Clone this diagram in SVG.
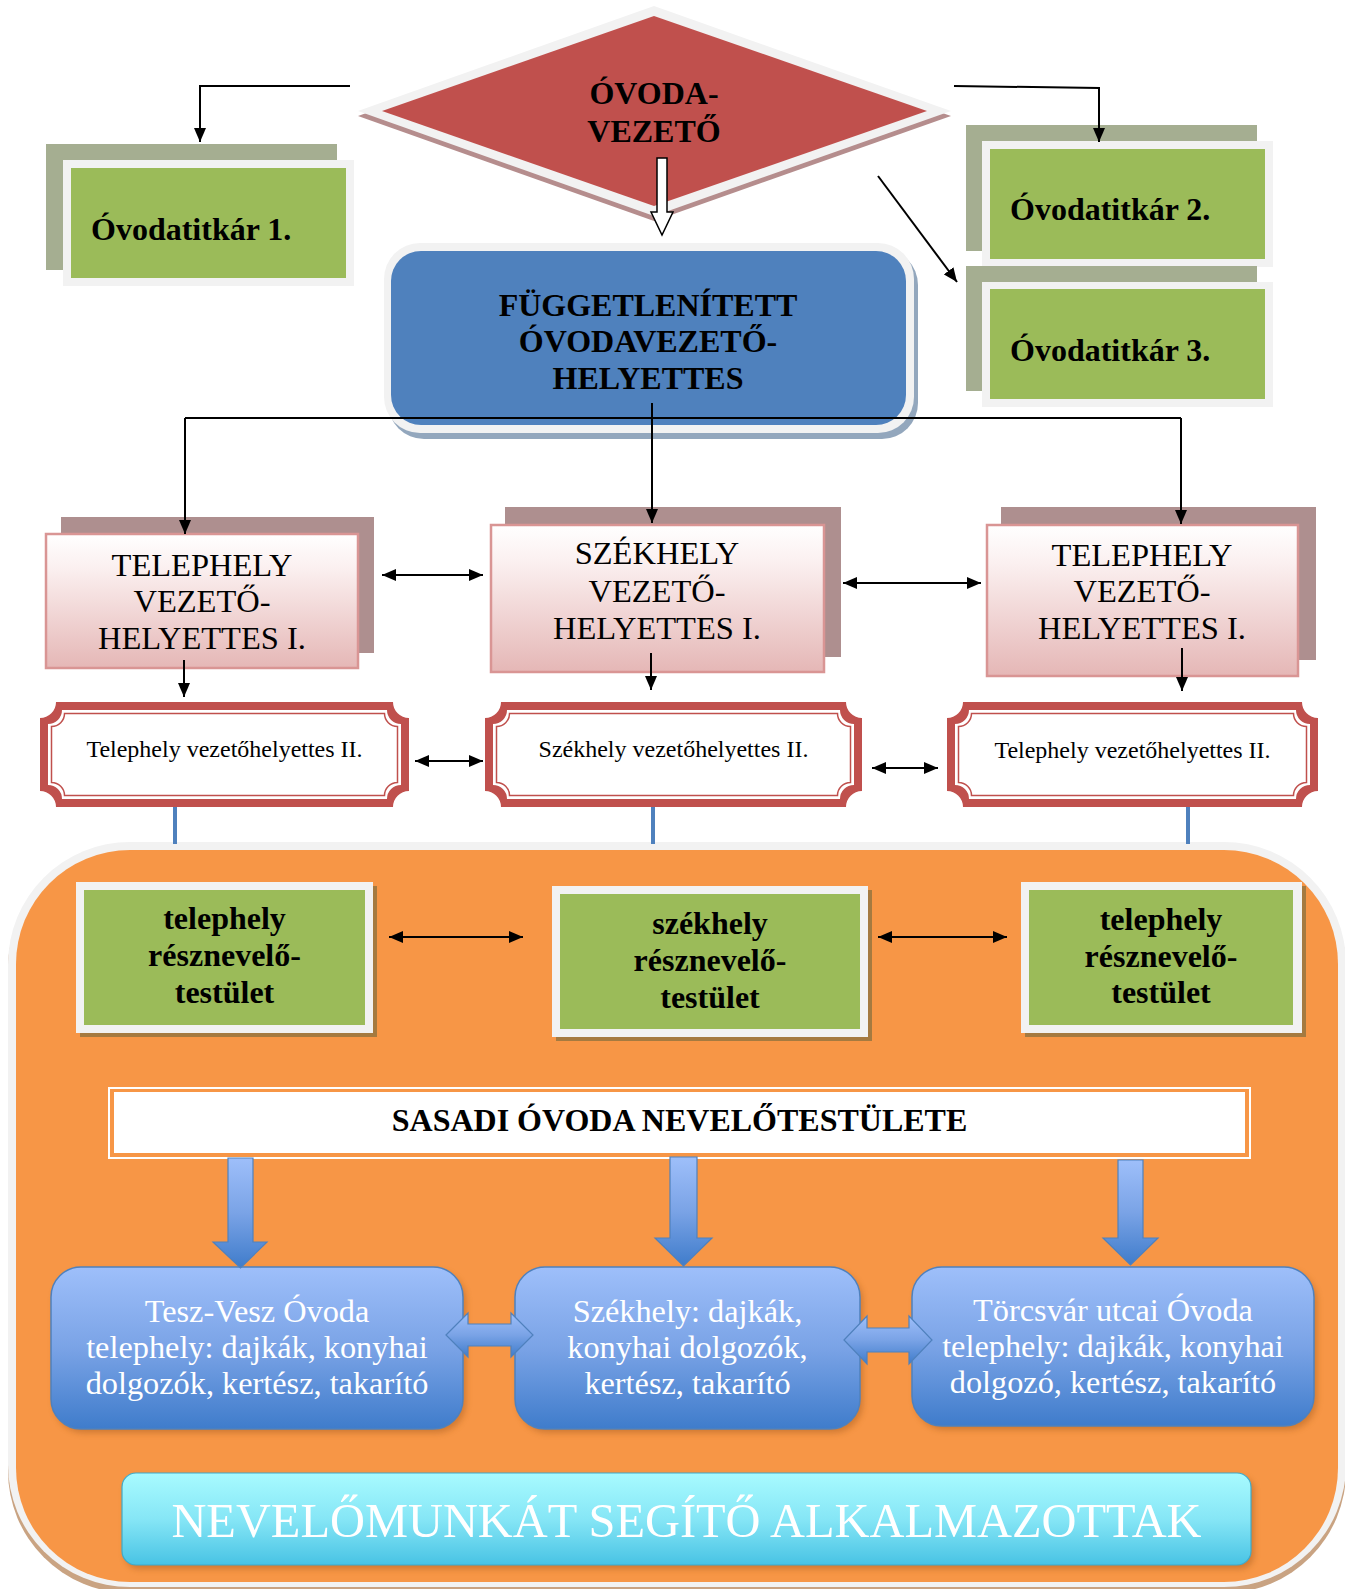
<svg xmlns="http://www.w3.org/2000/svg" width="1345" height="1589" viewBox="0 0 1345 1589">
<style>
.t{font-family:"Liberation Serif","Times New Roman",serif;}
.b{font-weight:bold;}
.c{text-anchor:middle;}
.tp{font-size:32.5px;}
.gt{font-size:32px;}
.bt{font-size:32.3px;fill:#fff;}
.conn{fill:none;stroke:#000;stroke-width:2;}
.back-g{fill:#A5AE91;}
.frame{fill:#F2F2F2;}
.green{fill:#9BBB59;}
.back-p{fill:#AE8F8F;}
.pink{fill:url(#gPink);stroke:#D99594;stroke-width:2.5;}
.red{fill:#C0504D;}
.pw{fill:#fff;}
.pl{fill:#fff;stroke:#C0504D;stroke-width:1.5;}
.bluebox{fill:url(#gBlue);stroke:#4F81BD;stroke-width:1.5;}
.blk{fill:url(#gBlue);stroke:#4F81BD;stroke-width:1.2;}
.vline{stroke:#4F81BD;stroke-width:4;}
</style>
<defs>
<marker id="ah" viewBox="0 0 14 12" refX="14" refY="6" markerWidth="14" markerHeight="12" markerUnits="userSpaceOnUse" orient="auto-start-reverse">
<path d="M0,0 L14,6 L0,12 z" fill="#000"/>
</marker>
<linearGradient id="gPink" x1="0" y1="0" x2="0" y2="1">
<stop offset="0" stop-color="#FFFFFF"/><stop offset="0.25" stop-color="#FBF0F0"/><stop offset="1" stop-color="#E5B7B6"/>
</linearGradient>
<linearGradient id="gBlue" x1="0" y1="0" x2="0" y2="1">
<stop offset="0" stop-color="#9EBFFA"/><stop offset="0.5" stop-color="#7AA3E6"/><stop offset="1" stop-color="#3F7CCB"/>
</linearGradient>
<linearGradient id="gCyan" x1="0" y1="0" x2="0" y2="1">
<stop offset="0" stop-color="#A8FBFF"/><stop offset="0.5" stop-color="#86E6F6"/><stop offset="1" stop-color="#48C3E4"/>
</linearGradient>
<filter id="blur" x="-10%" y="-20%" width="120%" height="150%"><feGaussianBlur stdDeviation="3"/></filter>
</defs>

<g id="orange-region">
<rect x="8" y="846" width="1338" height="747" rx="122" fill="#C9A382"/>
<rect x="8" y="842" width="1338" height="745" rx="122" fill="#F2F2F2"/>
<rect x="16" y="850" width="1322" height="732" rx="114" fill="#F79646"/>
</g>

<g id="ovodavezeto">
<polygon points="358,116 654,11 951,116 654,221" fill="#B58D8D"/>
<polygon points="358,111 654,6 951,111 654,216" fill="#F2F2F2"/>
<polygon points="382,111 654,16 927,111 654,206" fill="#C0504D"/>
<text class="t b c" x="654" y="104" font-size="32">ÓVODA-</text>
<text class="t b c" x="654" y="142" font-size="32">VEZETŐ</text>
</g>

<g id="titkar1">
<rect class="back-g" x="46" y="144" width="291" height="126"/>
<rect class="frame" x="63" y="160" width="291" height="126"/>
<rect class="green" x="71" y="168" width="275" height="110"/>
<text class="t b" x="91" y="240" font-size="32">Óvodatitkár 1.</text>
</g>
<g id="titkar2">
<rect class="back-g" x="966" y="125" width="291" height="126"/>
<rect class="frame" x="982" y="141" width="291" height="126"/>
<rect class="green" x="990" y="149" width="275" height="110"/>
<text class="t b" x="1010" y="220" font-size="32">Óvodatitkár 2.</text>
</g>
<g id="titkar3">
<rect class="back-g" x="966" y="266" width="291" height="125"/>
<rect class="frame" x="982" y="282" width="291" height="125"/>
<rect class="green" x="990" y="289" width="275" height="110"/>
<text class="t b" x="1010" y="361" font-size="32">Óvodatitkár 3.</text>
</g>

<g id="helyettes">
<rect x="388" y="249" width="530" height="190" rx="36" fill="#93A7BD"/>
<rect x="384" y="243" width="530" height="190" rx="36" fill="#F2F2F2"/>
<rect x="391" y="251" width="515" height="174" rx="30" fill="#4F81BD"/>
<text class="t b c" x="648" y="316" font-size="32">FÜGGETLENÍTETT</text>
<text class="t b c" x="648" y="352" font-size="32">ÓVODAVEZETŐ-</text>
<text class="t b c" x="648" y="389" font-size="32">HELYETTES</text>
</g>

<g id="telephely1">
<rect class="back-p" x="61" y="517" width="313" height="136"/>
<rect class="pink" x="46" y="534" width="312" height="134"/>
<text class="t c tp" x="202" y="576">TELEPHELY</text>
<text class="t c tp" x="202" y="612">VEZETŐ-</text>
<text class="t c tp" x="202" y="649">HELYETTES I.</text>
</g>
<g id="szekhely1">
<rect class="back-p" x="505" y="507" width="336" height="150"/>
<rect class="pink" x="491" y="525" width="333" height="147"/>
<text class="t c tp" x="657" y="564">SZÉKHELY</text>
<text class="t c tp" x="657" y="602">VEZETŐ-</text>
<text class="t c tp" x="657" y="639">HELYETTES I.</text>
</g>
<g id="telephely1b">
<rect class="back-p" x="1001" y="507" width="315" height="153"/>
<rect class="pink" x="987" y="525" width="311" height="151"/>
<text class="t c tp" x="1142" y="566">TELEPHELY</text>
<text class="t c tp" x="1142" y="602">VEZETŐ-</text>
<text class="t c tp" x="1142" y="639">HELYETTES I.</text>
</g>

<g id="telephely2">
<path class="red" d="M56,702 H393 A16,16 0 0 0 409,718 V791 A16,16 0 0 0 393,807 H56 A16,16 0 0 0 40,791 V718 A16,16 0 0 0 56,702 Z"/>
<path class="pw" d="M62,710 H387 A14,14 0 0 0 401,724 V785 A14,14 0 0 0 387,799 H62 A14,14 0 0 0 48,785 V724 A14,14 0 0 0 62,710 Z"/>
<path class="pl" d="M64.5,713.5 H384.5 A13,13 0 0 0 397.5,726.5 V782.5 A13,13 0 0 0 384.5,795.5 H64.5 A13,13 0 0 0 51.5,782.5 V726.5 A13,13 0 0 0 64.5,713.5 Z"/>
<text class="t c" x="224.5" y="757" font-size="24">Telephely vezetőhelyettes II.</text>
</g>
<g id="szekhely2">
<path class="red" d="M501,702 H846 A16,16 0 0 0 862,718 V791 A16,16 0 0 0 846,807 H501 A16,16 0 0 0 485,791 V718 A16,16 0 0 0 501,702 Z"/>
<path class="pw" d="M507,710 H840 A14,14 0 0 0 854,724 V785 A14,14 0 0 0 840,799 H507 A14,14 0 0 0 493,785 V724 A14,14 0 0 0 507,710 Z"/>
<path class="pl" d="M509.5,713.5 H837.5 A13,13 0 0 0 850.5,726.5 V782.5 A13,13 0 0 0 837.5,795.5 H509.5 A13,13 0 0 0 496.5,782.5 V726.5 A13,13 0 0 0 509.5,713.5 Z"/>
<text class="t c" x="673.5" y="757" font-size="24">Székhely vezetőhelyettes II.</text>
</g>
<g id="telephely2b">
<path class="red" d="M963,702 H1302 A16,16 0 0 0 1318,718 V791 A16,16 0 0 0 1302,807 H963 A16,16 0 0 0 947,791 V718 A16,16 0 0 0 963,702 Z"/>
<path class="pw" d="M969,710 H1296 A14,14 0 0 0 1310,724 V785 A14,14 0 0 0 1296,799 H969 A14,14 0 0 0 955,785 V724 A14,14 0 0 0 969,710 Z"/>
<path class="pl" d="M971.5,713.5 H1293.5 A13,13 0 0 0 1306.5,726.5 V782.5 A13,13 0 0 0 1293.5,795.5 H971.5 A13,13 0 0 0 958.5,782.5 V726.5 A13,13 0 0 0 971.5,713.5 Z"/>
<text class="t c" x="1132.5" y="758" font-size="24">Telephely vezetőhelyettes II.</text>
</g>

<g id="resz1">
<rect x="80" y="886" width="297" height="151" fill="#A57A40"/>
<rect class="frame" x="76" y="882" width="297" height="151"/>
<rect class="green" x="84" y="890" width="281" height="135"/>
<text class="t b c gt" x="224.5" y="929">telephely</text>
<text class="t b c gt" x="224.5" y="966">résznevelő-</text>
<text class="t b c gt" x="224.5" y="1003">testület</text>
</g>
<g id="resz2">
<rect x="556" y="890" width="316" height="151" fill="#A57A40"/>
<rect class="frame" x="552" y="886" width="316" height="151"/>
<rect class="green" x="560" y="894" width="300" height="135"/>
<text class="t b c gt" x="710" y="934">székhely</text>
<text class="t b c gt" x="710" y="971">résznevelő-</text>
<text class="t b c gt" x="710" y="1008">testület</text>
</g>
<g id="resz3">
<rect x="1025" y="886" width="281" height="151" fill="#A57A40"/>
<rect class="frame" x="1021" y="882" width="281" height="151"/>
<rect class="green" x="1029" y="890" width="264" height="135"/>
<text class="t b c gt" x="1161" y="930">telephely</text>
<text class="t b c gt" x="1161" y="967">résznevelő-</text>
<text class="t b c gt" x="1161" y="1003">testület</text>
</g>

<g id="sasadi">
<rect x="109" y="1088" width="1141" height="70" fill="none" stroke="#fff" stroke-width="2"/>
<rect x="114" y="1092" width="1131" height="61" fill="#fff"/>
<text class="t b c" x="679.5" y="1131" font-size="32">SASADI ÓVODA NEVELŐTESTÜLETE</text>
</g>

<g id="teszvesz">
<rect x="54" y="1271" width="412" height="162" rx="30" fill="#A0591C" opacity="0.45" filter="url(#blur)"/>
<rect class="bluebox" x="51" y="1267" width="412" height="162" rx="30"/>
<text class="t c bt" x="257" y="1322">Tesz-Vesz Óvoda</text>
<text class="t c bt" x="257" y="1358">telephely: dajkák, konyhai</text>
<text class="t c bt" x="257" y="1394">dolgozók, kertész, takarító</text>
</g>
<g id="szekhely-dolg">
<rect x="518" y="1271" width="345" height="162" rx="30" fill="#A0591C" opacity="0.45" filter="url(#blur)"/>
<rect class="bluebox" x="515" y="1267" width="345" height="162" rx="30"/>
<text class="t c bt" x="687.5" y="1322">Székhely: dajkák,</text>
<text class="t c bt" x="687.5" y="1358">konyhai dolgozók,</text>
<text class="t c bt" x="687.5" y="1394">kertész, takarító</text>
</g>
<g id="torcsvar">
<rect x="915" y="1271" width="402" height="159" rx="30" fill="#A0591C" opacity="0.45" filter="url(#blur)"/>
<rect class="bluebox" x="912" y="1267" width="402" height="159" rx="30"/>
<text class="t c bt" x="1113" y="1321">Törcsvár utcai Óvoda</text>
<text class="t c bt" x="1113" y="1357">telephely: dajkák, konyhai</text>
<text class="t c bt" x="1113" y="1393">dolgozó, kertész, takarító</text>
</g>

<g id="alkalmazottak">
<rect x="125" y="1477" width="1129" height="92" rx="14" fill="#A0591C" opacity="0.45" filter="url(#blur)"/>
<rect x="122" y="1473" width="1129" height="92" rx="14" fill="url(#gCyan)" stroke="#3FA9C9" stroke-width="1.2"/>
<text class="t c" x="686.5" y="1537" font-size="48.4" fill="#fff">NEVELŐMUNKÁT SEGÍTŐ ALKALMAZOTTAK</text>
</g>

<g id="connectors">
<path class="conn" d="M350,86 H200 V142" marker-end="url(#ah)"/>
<path class="conn" d="M954,86 L1099,88 V142" marker-end="url(#ah)"/>
<path class="conn" d="M878,176 L957,282" marker-end="url(#ah)"/>
<path d="M657,158 H667 V212 H673 L662,235 L651,212 H657 Z" fill="#fff" stroke="#000" stroke-width="1.5"/>
<path class="conn" d="M652,403 V523" marker-end="url(#ah)"/>
<path class="conn" d="M185,418 H1181"/>
<path class="conn" d="M185,418 V534" marker-end="url(#ah)"/>
<path class="conn" d="M1181,418 V524" marker-end="url(#ah)"/>
<path class="conn" d="M184,660 V697" marker-end="url(#ah)"/>
<path class="conn" d="M651,653 V690" marker-end="url(#ah)"/>
<path class="conn" d="M1182,648 V691" marker-end="url(#ah)"/>
<path class="conn" d="M382,575 H483" marker-start="url(#ah)" marker-end="url(#ah)"/>
<path class="conn" d="M843,583 H981" marker-start="url(#ah)" marker-end="url(#ah)"/>
<path class="conn" d="M415,761 H483" marker-start="url(#ah)" marker-end="url(#ah)"/>
<path class="conn" d="M872,768 H938" marker-start="url(#ah)" marker-end="url(#ah)"/>
<path class="conn" d="M389,937 H523" marker-start="url(#ah)" marker-end="url(#ah)"/>
<path class="conn" d="M878,937 H1007" marker-start="url(#ah)" marker-end="url(#ah)"/>
<line class="vline" x1="175" y1="807" x2="175" y2="844"/>
<line class="vline" x1="653" y1="807" x2="653" y2="844"/>
<line class="vline" x1="1188" y1="807" x2="1188" y2="844"/>
<path class="blk" d="M228,1158 H253 V1242 H267 L240.5,1268 L213,1242 H228 Z"/>
<path class="blk" d="M670,1157 H697 V1238 H712 L683.5,1266 L655,1238 H670 Z"/>
<path class="blk" d="M1118,1160 H1143 V1238 H1158 L1130.5,1265 L1103,1238 H1118 Z"/>
<path class="blk" d="M446,1335 L468,1313 V1324 H511 V1313 L533,1335 L511,1357 V1346 H468 V1357 Z"/>
<path class="blk" d="M844,1340 L867,1316 V1328 H909 V1316 L932,1340 L909,1364 V1352 H867 V1364 Z"/>
</g>
</svg>
